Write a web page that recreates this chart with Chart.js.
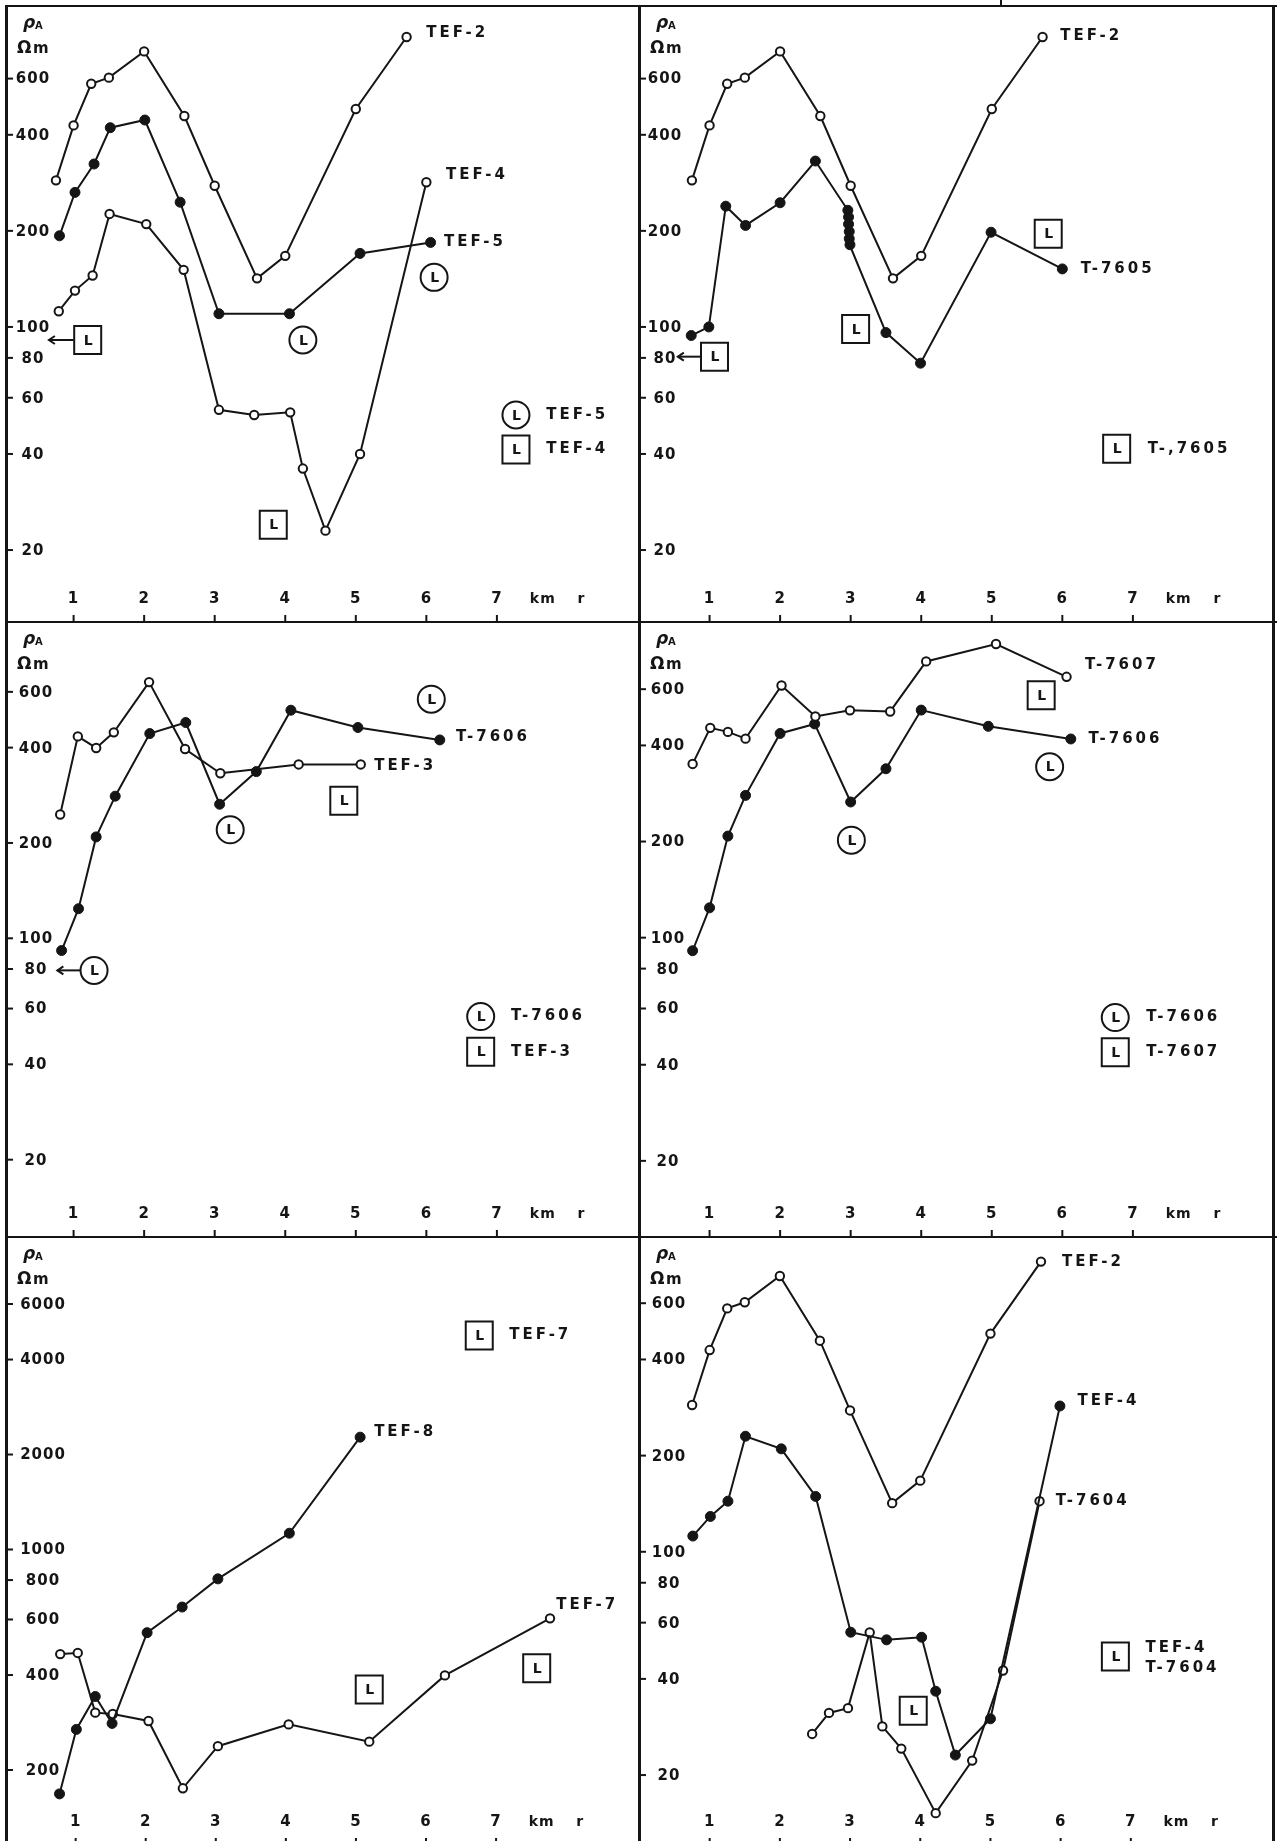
<!DOCTYPE html>
<html>
<head>
<meta charset="utf-8">
<script src="https://cdn.jsdelivr.net/npm/chart.js@4.4.1/dist/chart.umd.min.js"></script>
<style>
  html, body { margin: 0; padding: 0; background: #fff; }
  body { width: 1282px; height: 1841px; position: relative; overflow: hidden; }
  canvas { position: absolute; }
  .ln { position: absolute; background: #151515; z-index: 5; }
</style>
</head>
<body>
<script>
const INK = '#151515';

// axis ticks
const xTickKm = [1, 2, 3, 4, 5, 6, 7];
const xTickLabels = ['1', '2', '3', '4', '5', '6', '7'];
const rhoTicks = [20, 40, 60, 80, 100, 200, 400, 600];
const rhoTickLabels = ['20', '40', '60', '80', '100', '200', '400', '600'];
const rhoTicksHigh = [200, 400, 600, 800, 1000, 2000, 4000, 6000];
const rhoTickLabelsHigh = ['200', '400', '600', '800', '1000', '2000', '4000', '6000'];

// TEF-2 (same curve in three panels)
const tef2Km  = [0.75, 1.0, 1.25, 1.5, 2.0, 2.57, 3.0, 3.6, 4.0, 5.0, 5.72];
const tef2Rho = [288, 428, 578, 604, 730, 458, 277, 142, 167, 482, 810];

// panel 1
const tef5Km  = [0.8, 1.02, 1.29, 1.52, 2.01, 2.51, 3.06, 4.06, 5.06, 6.06];
const tef5Rho = [193, 264, 324, 421, 445, 246, 110, 110, 170, 184];
const tef4KmA  = [0.79, 1.02, 1.27, 1.51, 2.03, 2.56, 3.06, 3.56, 4.07, 4.25, 4.57, 5.06, 6.0];
const tef4RhoA = [112, 130, 145, 226, 210, 151, 55, 53, 54, 36, 23, 40, 284];

// panel 2
const t7605Km  = [0.74, 0.99, 1.23, 1.51, 2.0, 2.5, 2.96, 2.97, 2.97, 2.98, 2.98, 2.99, 3.5, 3.99, 4.99, 6.0];
const t7605Rho = [94, 100, 239, 208, 245, 331, 232, 221, 210, 199, 189, 181, 96, 77, 198, 152];

// panel 3
const tef3Km  = [0.81, 1.06, 1.32, 1.57, 2.07, 2.58, 3.08, 4.19, 5.07];
const tef3Rho = [246, 434, 399, 447, 644, 396, 332, 354, 354];
const t7606KmA  = [0.83, 1.07, 1.32, 1.59, 2.08, 2.59, 3.07, 3.59, 4.08, 5.03, 6.19];
const t7606RhoA = [91.5, 124, 209, 281, 443, 480, 265, 336, 525, 463, 423];

// panel 4
const t7607Km  = [0.76, 1.01, 1.26, 1.51, 2.02, 2.5, 2.99, 3.56, 4.07, 5.06, 6.06];
const t7607Rho = [350, 454, 441, 420, 616, 493, 515, 511, 733, 831, 656];
const t7606KmB  = [0.76, 1.0, 1.26, 1.51, 2.0, 2.49, 3.0, 3.5, 4.0, 4.95, 6.12];
const t7606RhoB = [91, 124, 208, 279, 436, 467, 266, 338, 516, 459, 419];

// panel 5
const tef8Km  = [0.77, 1.01, 1.28, 1.52, 2.02, 2.52, 3.03, 4.05, 5.06];
const tef8Rho = [168, 269, 342, 281, 545, 657, 807, 1126, 2270];
const tef7Km  = [0.78, 1.03, 1.28, 1.53, 2.04, 2.53, 3.03, 4.04, 5.19, 6.27, 7.77];
const tef7Rho = [466, 470, 304, 301, 286, 175, 238, 279, 246, 399, 605];

// panel 6
const tef4KmB  = [0.76, 1.01, 1.26, 1.51, 2.02, 2.51, 3.01, 3.52, 4.02, 4.22, 4.5, 5.0, 5.99];
const tef4RhoB = [112, 129, 144, 230, 210, 149, 56, 53, 54, 36.6, 23.1, 30, 286];
const t7604Km  = [2.46, 2.7, 2.97, 3.28, 3.46, 3.73, 4.22, 4.74, 5.18, 5.7];
const t7604Rho = [26.9, 31.3, 32.4, 55.9, 28.4, 24.2, 15.2, 22.2, 42.5, 144];

const panels = [
  { box: [6, 6, 633, 616], x: [0.042, 9.014], y: [11.9, 1013], yTicks: rhoTicks, yLabels: rhoTickLabels, labelX: 27,
    series: [[tef2Km, tef2Rho, false], [tef5Km, tef5Rho, true], [tef4KmA, tef4RhoA, false]],
    texts: [[6.0, 833, 'TEF-2'], [6.28, 298, 'TEF-4'], [6.25, 185, 'TEF-5'], [7.7, 53, 'TEF-5'], [7.7, 41.3, 'TEF-4']],
    marks: [['sq', 1.2, 91, 0.65], ['circ', 4.25, 91], ['circ', 6.11, 143], ['sq', 3.83, 24], ['circ', 7.27, 53], ['sq', 7.27, 41.3]] },
  { box: [639, 6, 635, 616], x: [0, 9.0], y: [11.9, 1013], yTicks: rhoTicks, yLabels: rhoTickLabels, labelX: 26,
    series: [[tef2Km, tef2Rho, false], [t7605Km, t7605Rho, true]],
    texts: [[5.97, 816, 'TEF-2'], [6.26, 152, 'T-7605'], [7.21, 41.5, 'T-,7605']],
    marks: [['sq', 1.07, 80.7, 0.55], ['sq', 3.07, 98.6], ['sq', 5.8, 196], ['sq', 6.77, 41.5]] },
  { box: [6, 622, 633, 615], x: [0.042, 9.014], y: [11.4, 997], yTicks: rhoTicks, yLabels: rhoTickLabels, labelX: 30,
    series: [[tef3Km, tef3Rho, false], [t7606KmA, t7606RhoA, true]],
    texts: [[6.42, 432, 'T-7606'], [5.26, 349, 'TEF-3'], [7.2, 56.6, 'T-7606'], [7.2, 43.8, 'TEF-3']],
    marks: [['circ', 6.07, 569], ['sq', 4.83, 272], ['circ', 3.22, 220], ['circ', 1.29, 79.2, 0.77], ['circ', 6.77, 56.6], ['sq', 6.77, 43.8]] },
  { box: [639, 622, 635, 615], x: [0, 9.0], y: [11.55, 974], yTicks: rhoTicks, yLabels: rhoTickLabels, labelX: 29,
    series: [[t7607Km, t7607Rho, false], [t7606KmB, t7606RhoB, true]],
    texts: [[6.32, 716, 'T-7607'], [6.37, 419, 'T-7606'], [7.19, 56.2, 'T-7606'], [7.19, 43.8, 'T-7607']],
    marks: [['sq', 5.7, 574], ['circ', 5.82, 343], ['circ', 3.01, 202], ['circ', 6.75, 56.2], ['sq', 6.75, 43.8]] },
  { box: [6, 1237, 633, 608], x: [0.006, 9.04], y: [115.7, 9783], yTicks: rhoTicksHigh, yLabels: rhoTickLabelsHigh, labelX: 37,
    series: [[tef8Km, tef8Rho, true], [tef7Km, tef7Rho, false]],
    texts: [[5.26, 2354, 'TEF-8'], [7.86, 668, 'TEF-7'], [7.19, 4770, 'TEF-7']],
    marks: [['sq', 5.19, 360], ['sq', 7.58, 420], ['sq', 6.76, 4770]] },
  { box: [639, 1237, 635, 608], x: [-0.007, 9.04], y: [12.08, 967], yTicks: rhoTicks, yLabels: rhoTickLabels, labelX: 30,
    series: [[tef2Km, tef2Rho, false], [tef4KmB, tef4RhoB, true], [t7604Km, t7604Rho, false]],
    texts: [[6.02, 804, 'TEF-2'], [6.24, 296, 'TEF-4'], [5.93, 144, 'T-7604'], [7.21, 50, 'TEF-4'], [7.21, 43.2, 'T-7604']],
    marks: [['sq', 3.9, 31.8], ['sq', 6.78, 47]] }
];

function drawMark(ctx, kind, x, y) {
  ctx.lineWidth = 2;
  ctx.beginPath();
  if (kind === 'circ') {
    ctx.arc(x, y, 13.5, 0, Math.PI * 2);
  } else {
    ctx.rect(x - 13.5, y - 14, 27, 28);
  }
  ctx.stroke();
  ctx.font = 'bold 14px "DejaVu Sans"';
  ctx.textAlign = 'center';
  ctx.letterSpacing = '0px';
  ctx.fillText('L', x + 0.5, y + 1);
}

function decor(panel) {
  return {
    id: 'decor',
    afterDatasetsDraw(chart) {
      const ctx = chart.ctx;
      const xs = chart.scales.x, ys = chart.scales.y;
      const { left, top, bottom } = chart.chartArea;
      ctx.save();
      ctx.strokeStyle = INK;
      ctx.fillStyle = INK;
      ctx.lineWidth = 2;
      ctx.textBaseline = 'middle';

      // y axis: short ticks off the frame, labels inside
      ctx.font = 'bold 15px "DejaVu Sans"';
      ctx.textAlign = 'center';
      ctx.letterSpacing = '1px';
      panel.yTicks.forEach((v, i) => {
        const y = ys.getPixelForValue(v);
        ctx.beginPath(); ctx.moveTo(left, y); ctx.lineTo(left + 7, y); ctx.stroke();
        ctx.fillText(panel.yLabels[i], left + panel.labelX, y + 1);
      });

      // x axis
      xTickKm.forEach((k, i) => {
        const x = xs.getPixelForValue(k);
        ctx.beginPath(); ctx.moveTo(x, bottom); ctx.lineTo(x, bottom - 7); ctx.stroke();
        ctx.fillText(xTickLabels[i], x, bottom - 23);
      });
      ctx.font = 'bold 14px "DejaVu Sans"';
      ctx.fillText('km', xs.getPixelForValue(7.65), bottom - 23);
      ctx.fillText('r', xs.getPixelForValue(8.2), bottom - 23);

      // axis title
      ctx.textAlign = 'left';
      ctx.textBaseline = 'alphabetic';
      ctx.letterSpacing = '0px';
      ctx.font = 'italic bold 17px "DejaVu Sans"';
      ctx.fillText('ρ', left + 17, top + 22);
      ctx.font = 'bold 10px "DejaVu Sans"';
      ctx.fillText('A', left + 29, top + 23);
      ctx.font = 'bold 17px "DejaVu Sans"';
      ctx.fillText('Ω', left + 11, top + 47);
      ctx.font = 'bold 15px "DejaVu Sans"';
      ctx.fillText('m', left + 27, top + 47);

      // curve names and legend texts
      ctx.textBaseline = 'middle';
      ctx.font = 'bold 15px "DejaVu Sans"';
      ctx.letterSpacing = '3px';
      panel.texts.forEach(([k, r, s]) => {
        ctx.textAlign = 'left';
        ctx.fillText(s, xs.getPixelForValue(k), ys.getPixelForValue(r));
      });

      // L marks
      panel.marks.forEach(([kind, k, r, arrowTo]) => {
        const x = xs.getPixelForValue(k), y = ys.getPixelForValue(r);
        drawMark(ctx, kind, x, y);
        if (arrowTo !== undefined) {
          const tip = xs.getPixelForValue(arrowTo);
          ctx.beginPath(); ctx.moveTo(x - 14, y); ctx.lineTo(tip, y); ctx.stroke();
          ctx.beginPath(); ctx.moveTo(tip + 6, y - 4); ctx.lineTo(tip, y); ctx.lineTo(tip + 6, y + 4); ctx.stroke();
        }
      });
      ctx.restore();
    }
  };
}

function makeSet(km, rho, filled) {
  return {
    data: km.map((k, i) => ({ x: k, y: rho[i] })),
    showLine: true,
    borderColor: INK,
    borderWidth: 2,
    tension: 0,
    pointRadius: filled ? 5 : 4.2,
    pointBorderWidth: filled ? 1 : 2,
    pointBackgroundColor: filled ? INK : '#fff',
    pointBorderColor: INK
  };
}

panels.forEach(panel => {
  const [l, t, w, h] = panel.box;
  const canvas = document.createElement('canvas');
  canvas.width = w;
  canvas.height = h;
  canvas.style.left = l + 'px';
  canvas.style.top = t + 'px';
  document.body.appendChild(canvas);

  new Chart(canvas.getContext('2d'), {
    type: 'scatter',
    data: { datasets: panel.series.map(s => makeSet(s[0], s[1], s[2])) },
    options: {
      responsive: false,
      animation: false,
      layout: { padding: 0, autoPadding: false },
      plugins: { legend: { display: false }, tooltip: { enabled: false } },
      scales: {
        x: { type: 'linear', min: panel.x[0], max: panel.x[1], bounds: 'data', display: false },
        y: { type: 'logarithmic', min: panel.y[0], max: panel.y[1], bounds: 'data', display: false }
      }
    },
    plugins: [decor(panel)]
  });
});

// frame lines
const frame = [
  [5, 5, 1272, 2], [5, 621, 1272, 2], [5, 1236, 1272, 2],
  [5, 5, 3, 1836], [638, 5, 3, 1836], [1272, 5, 3, 1836],
  [1000, 0, 2, 6]
];
frame.forEach(([l, t, w, h]) => {
  const d = document.createElement('div');
  d.className = 'ln';
  d.style.left = l + 'px'; d.style.top = t + 'px';
  d.style.width = w + 'px'; d.style.height = h + 'px';
  document.body.appendChild(d);
});
</script>
</body>
</html>
